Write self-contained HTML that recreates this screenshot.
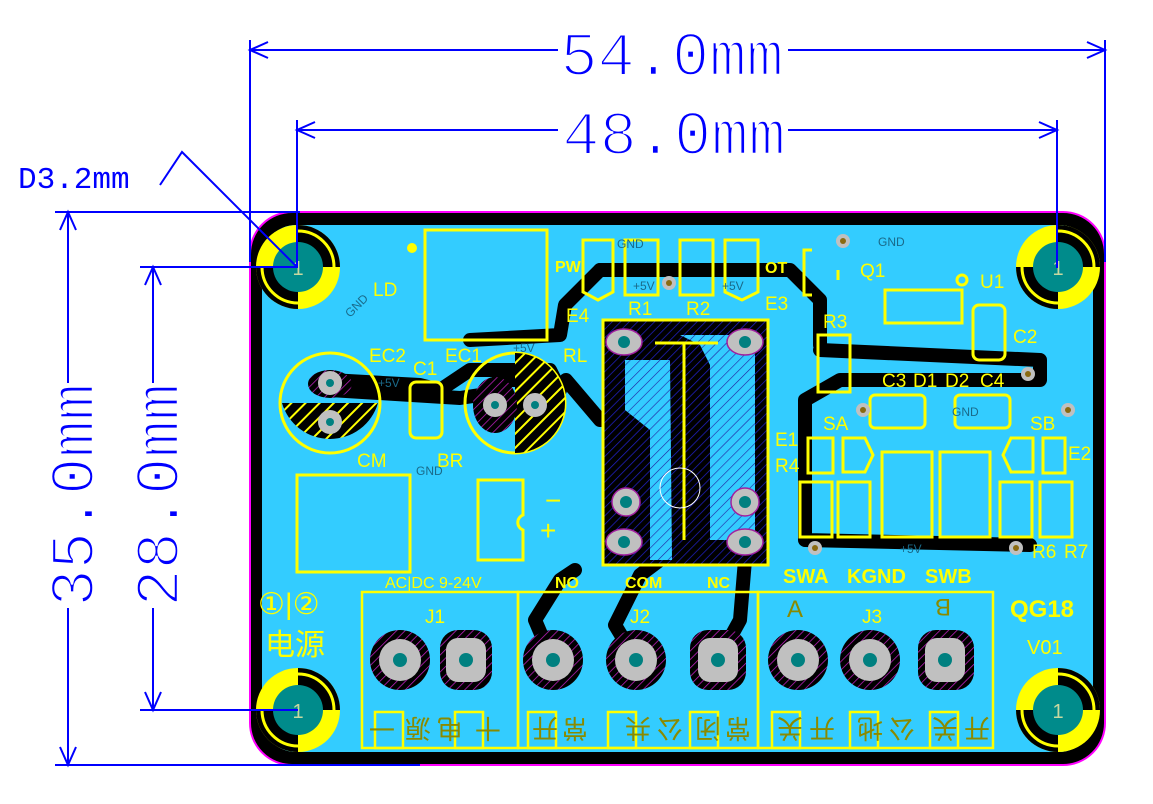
<!DOCTYPE html>
<html><head><meta charset="utf-8"><style>
html,body{margin:0;padding:0;background:#fff;}
svg{display:block;}
.y{fill:#FFFF00;font-family:"Liberation Sans",sans-serif;}
.g{fill:#1a6a8a;font-family:"Liberation Sans",sans-serif;}
.d{fill:#0000FF;stroke:#fff;stroke-width:2.4;font-family:"Liberation Mono",monospace;}
.c{fill:#8a8a00;font-family:"Liberation Sans","Noto Sans CJK SC",sans-serif;font-size:26px;}
</style></head><body>
<svg width="1153" height="804" viewBox="0 0 1153 804" xmlns="http://www.w3.org/2000/svg">
<defs>
<pattern id="h1" width="6" height="6" patternUnits="userSpaceOnUse" patternTransform="rotate(45)"><rect width="6" height="6" fill="#000"/><line x1="0" y1="0" x2="0" y2="6" stroke="#c020c0" stroke-width="1.5"/></pattern>
<pattern id="h2" width="6" height="6" patternUnits="userSpaceOnUse" patternTransform="rotate(45)"><rect width="6" height="6" fill="#000"/><line x1="0" y1="0" x2="0" y2="6" stroke="#2020c0" stroke-width="1.5"/></pattern>
<pattern id="h3" width="7" height="7" patternUnits="userSpaceOnUse" patternTransform="rotate(45)"><rect width="7" height="7" fill="#33CCFF"/><line x1="0" y1="0" x2="0" y2="7" stroke="#2020a0" stroke-width="1.2"/></pattern>
<pattern id="hy" width="10" height="10" patternUnits="userSpaceOnUse" patternTransform="rotate(45)"><rect width="10" height="10" fill="#000"/><line x1="0" y1="0" x2="0" y2="10" stroke="#FFFF00" stroke-width="4"/></pattern>
</defs>

<rect x="250" y="212" width="855" height="553" rx="42" fill="#000" stroke="#FF00FF" stroke-width="2"/>
<rect x="262" y="225" width="831" height="527" rx="34" fill="#33CCFF"/>

<g fill="none" stroke="#000" stroke-width="14" stroke-linejoin="round" stroke-linecap="round">
<polyline points="600,270 790,270 820,300 820,345"/>
<polyline points="600,270 565,305 560,335 470,340"/>
<polyline points="330,380 420,385 440,390 470,370 550,370 560,390"/>
<polyline points="330,390 460,398 480,395 500,380 540,380"/>
<polyline points="820,350 1040,360 1040,380 840,380 805,400 805,540 1030,545"/>
<polyline points="552,660 535,620 560,580 575,570"/>
<polyline points="636,660 615,625 640,575 660,560"/>
<polyline points="718,660 740,620 745,560"/>
<polyline points="566,380 600,420"/>
</g>

<rect x="603" y="320" width="165" height="245" fill="url(#h2)" stroke="#FFFF00" stroke-width="3"/>
<path d="M680,335 L755,335 L755,540 L710,540 L710,365 L700,345 Z" fill="url(#h3)"/>
<path d="M625,360 L670,360 L672,560 L650,560 L650,430 L625,410 Z" fill="url(#h3)"/>
<line x1="655" y1="343" x2="718" y2="343" stroke="#FFFF00" stroke-width="3"/>
<line x1="684" y1="343" x2="684" y2="540" stroke="#FFFF00" stroke-width="3"/>
<g fill="#C0C0C0" stroke="#a020a0" stroke-width="1.5">
<ellipse cx="624" cy="342" rx="18" ry="13"/><ellipse cx="745" cy="342" rx="18" ry="13"/>
<circle cx="626" cy="502" r="14"/><circle cx="745" cy="502" r="14"/>
<ellipse cx="624" cy="542" rx="18" ry="13"/><ellipse cx="745" cy="542" rx="18" ry="13"/>
</g>
<g fill="#008080"><circle cx="624" cy="342" r="6"/><circle cx="745" cy="342" r="6"/><circle cx="626" cy="502" r="6"/><circle cx="745" cy="502" r="6"/><circle cx="624" cy="542" r="6"/><circle cx="745" cy="542" r="6"/></g>
<circle cx="680" cy="488" r="20" fill="none" stroke="#fff" stroke-width="1"/>

<rect x="425" y="230" width="122" height="110" fill="none" stroke="#FFFF00" stroke-width="3"/>
<circle cx="412" cy="248" r="5" fill="#FFFF00"/>
<g fill="none" stroke="#FFFF00" stroke-width="3">
<path d="M583,240 h30 v52 l-15,8 l-15,-8 z"/>
<rect x="625" y="240" width="33" height="55"/>
<rect x="680" y="240" width="33" height="55"/>
<path d="M725,240 h33 v52 l-16,8 l-17,-8 z"/>
<path d="M812,250 h-8 v45 h8 M838,270 v10"/>
<rect x="885" y="290" width="77" height="33"/>
<rect x="973" y="305" width="32" height="55" rx="6"/>
<rect x="818" y="335" width="32" height="57"/>
<rect x="870" y="395" width="55" height="33" rx="5"/>
<rect x="955" y="395" width="55" height="33" rx="5"/>
<rect x="808" y="438" width="25" height="35"/>
<path d="M843,438 h22 l8,17 l-8,17 h-22 z"/>
<path d="M1033,438 h-22 l-8,17 l8,17 h22 z"/>
<rect x="1043" y="438" width="22" height="35"/>
<rect x="800" y="482" width="32" height="55"/>
<rect x="838" y="482" width="32" height="55"/>
<rect x="882" y="452" width="50" height="85"/>
<rect x="940" y="452" width="50" height="85"/>
<rect x="1000" y="482" width="32" height="55"/>
<rect x="1040" y="482" width="32" height="55"/>
<rect x="410" y="382" width="32" height="56" rx="6"/>
<rect x="297" y="475" width="113" height="97"/>
<path d="M478,480 h45 v35 a8,8 0 0 0 0,15 v30 h-45 z"/>
</g>
<circle cx="962" cy="280" r="5" fill="none" stroke="#FFFF00" stroke-width="3"/>
<circle cx="330" cy="403" r="50" fill="none" stroke="#FFFF00" stroke-width="3"/>
<path d="M282,403 A50,50 0 0 0 378,403 Z" fill="url(#hy)"/>
<ellipse cx="330" cy="384" rx="22" ry="14" fill="url(#h1)"/>
<circle cx="515" cy="403" r="50" fill="none" stroke="#FFFF00" stroke-width="3"/>
<path d="M515,353 A50,50 0 0 1 515,453 Z" fill="url(#hy)"/>
<ellipse cx="495" cy="405" rx="22" ry="28" fill="url(#h1)"/>
<g fill="#C0C0C0"><circle cx="330" cy="383" r="12"/><circle cx="330" cy="422" r="12"/><circle cx="495" cy="405" r="12"/><circle cx="535" cy="405" r="12"/></g>
<g fill="#008080"><circle cx="330" cy="383" r="4"/><circle cx="330" cy="422" r="4"/><circle cx="495" cy="405" r="4"/><circle cx="535" cy="405" r="4"/></g>
<g fill="#C0C0C0"><circle cx="843" cy="241" r="7"/><circle cx="669" cy="283" r="7"/><circle cx="1028" cy="374" r="7"/><circle cx="863" cy="410" r="7"/><circle cx="1068" cy="410" r="7"/><circle cx="815" cy="548" r="7"/><circle cx="1016" cy="548" r="7"/></g>
<g fill="#8a6a10"><circle cx="843" cy="241" r="3"/><circle cx="669" cy="283" r="3"/><circle cx="1028" cy="374" r="3"/><circle cx="863" cy="410" r="3"/><circle cx="1068" cy="410" r="3"/><circle cx="815" cy="548" r="3"/><circle cx="1016" cy="548" r="3"/></g>

<g fill="none" stroke="#FFFF00" stroke-width="2.5">
<rect x="362" y="592" width="156" height="156"/>
<rect x="518" y="592" width="240" height="156"/>
<rect x="758" y="592" width="235" height="156"/>
<rect x="375" y="712" width="28" height="36"/><rect x="455" y="712" width="28" height="36"/>
<rect x="528" y="712" width="28" height="36"/><rect x="608" y="712" width="28" height="36"/>
<rect x="690" y="712" width="28" height="36"/><rect x="772" y="712" width="28" height="36"/>
<rect x="850" y="712" width="28" height="36"/><rect x="930" y="712" width="28" height="36"/>
</g>
<g fill="url(#h1)">
<circle cx="400" cy="660" r="30"/><rect x="440" y="630" width="52" height="60" rx="18"/>
<circle cx="553" cy="660" r="30"/><circle cx="636" cy="660" r="30"/><rect x="690" y="630" width="56" height="60" rx="18"/>
<circle cx="798" cy="660" r="30"/><circle cx="870" cy="660" r="30"/><rect x="918" y="630" width="56" height="60" rx="18"/>
</g>
<g fill="#C0C0C0">
<circle cx="400" cy="660" r="21"/><rect x="446" y="638" width="40" height="44" rx="12"/>
<circle cx="553" cy="660" r="21"/><circle cx="636" cy="660" r="21"/><rect x="698" y="638" width="40" height="44" rx="12"/>
<circle cx="798" cy="660" r="21"/><circle cx="870" cy="660" r="21"/><rect x="925" y="638" width="40" height="44" rx="12"/>
</g>
<g fill="#008080">
<circle cx="400" cy="660" r="7"/><circle cx="466" cy="660" r="7"/><circle cx="553" cy="660" r="7"/><circle cx="636" cy="660" r="7"/><circle cx="718" cy="660" r="7"/><circle cx="798" cy="660" r="7"/><circle cx="870" cy="660" r="7"/><circle cx="945" cy="660" r="7"/>
</g>

<g id="mh">
<circle cx="298" cy="267" r="42" fill="#FFFF00"/>
<path d="M298,267 L298,225 A42,42 0 0 1 340,267 Z" fill="#000"/>
<path d="M298,267 L298,309 A42,42 0 0 1 256,267 Z" fill="#000"/>
<circle cx="298" cy="267" r="36" fill="none" stroke="#FFFF00" stroke-width="3"/>
<circle cx="298" cy="267" r="25" fill="#008B8B"/>
<text x="298" y="275" text-anchor="middle" font-size="20" fill="#c8d8a0" font-family="Liberation Sans">1</text>
</g>
<use href="#mh" x="760" y="0"/>
<use href="#mh" x="0" y="443"/>
<use href="#mh" x="760" y="443"/>

<g class="y" font-size="19">
<text x="373" y="296">LD</text>
<text x="555" y="272" font-size="16" font-weight="bold">PW</text>
<text x="765" y="273" font-size="16" font-weight="bold">OT</text>
<text x="628" y="315">R1</text><text x="686" y="315">R2</text>
<text x="566" y="322">E4</text><text x="765" y="310">E3</text>
<text x="860" y="277">Q1</text><text x="980" y="288">U1</text>
<text x="1013" y="343">C2</text><text x="823" y="328">R3</text>
<text x="369" y="362">EC2</text><text x="445" y="362">EC1</text>
<text x="413" y="375">C1</text><text x="563" y="362">RL</text>
<text x="357" y="467">CM</text><text x="437" y="467">BR</text>
<text x="882" y="387">C3</text><text x="913" y="387">D1</text><text x="945" y="387">D2</text><text x="980" y="387">C4</text>
<text x="823" y="430">SA</text><text x="1030" y="430">SB</text>
<text x="775" y="446">E1</text><text x="775" y="472">R4</text>
<text x="1068" y="460">E2</text>
<text x="1032" y="558">R6</text><text x="1064" y="558">R7</text>
<text x="425" y="623">J1</text><text x="630" y="623">J2</text><text x="862" y="623">J3</text>
<text x="545" y="510" font-size="28">−</text><text x="540" y="540" font-size="28">+</text>
<text x="385" y="588" font-size="16">AC|DC 9-24V</text>
<text x="555" y="588" font-size="16" font-weight="bold">NO</text>
<text x="625" y="588" font-size="16" font-weight="bold">COM</text>
<text x="707" y="588" font-size="16" font-weight="bold">NC</text>
<text x="783" y="583" font-size="20" font-weight="bold">SWA</text>
<text x="847" y="583" font-size="20" font-weight="bold">KGND</text>
<text x="925" y="583" font-size="20" font-weight="bold">SWB</text>
<text x="1010" y="617" font-size="24" font-weight="bold">QG18</text>
<text x="1027" y="654" font-size="20">V01</text>
<text x="258" y="614" font-size="30">①|②</text>
<text x="265" y="655" font-size="30" font-family="'Liberation Sans','Noto Sans CJK SC',sans-serif">电源</text>
<text x="787" y="617" font-size="24" style="fill:#8a8a00">A</text>
<text x="933" y="617" font-size="24" style="fill:#8a8a00" transform="rotate(180 942 608)">B</text>
</g>
<g class="c" text-anchor="middle">
<text transform="translate(382,728) rotate(180)" y="9">一</text>
<text transform="translate(418,728) rotate(180)" y="9">源</text>
<text transform="translate(450,728) rotate(180)" y="9">电</text>
<text transform="translate(488,728) rotate(180)" y="9">十</text>
<text transform="translate(545,728) rotate(180)" y="9">开</text>
<text transform="translate(575,728) rotate(180)" y="9">常</text>
<text transform="translate(638,728) rotate(180)" y="9">共</text>
<text transform="translate(670,728) rotate(180)" y="9">公</text>
<text transform="translate(708,728) rotate(180)" y="9">闭</text>
<text transform="translate(738,728) rotate(180)" y="9">常</text>
<text transform="translate(790,728) rotate(180)" y="9">关</text>
<text transform="translate(822,728) rotate(180)" y="9">开</text>
<text transform="translate(870,728) rotate(180)" y="9">地</text>
<text transform="translate(902,728) rotate(180)" y="9">公</text>
<text transform="translate(945,728) rotate(180)" y="9">关</text>
<text transform="translate(977,728) rotate(180)" y="9">开</text>
</g>
<g class="g" font-size="12">
<text x="617" y="248">GND</text><text x="878" y="246">GND</text>
<text x="633" y="290">+5V</text><text x="722" y="290">+5V</text>
<text x="378" y="387">+5V</text><text x="513" y="352">+5V</text>
<text x="416" y="475">GND</text><text x="952" y="416">GND</text>
<text x="900" y="553">+5V</text>
<text x="350" y="318" transform="rotate(-45 350 318)">GND</text>
</g>

<g stroke="#0000FF" stroke-width="2" fill="none">
<line x1="250" y1="40" x2="250" y2="262"/><line x1="1105" y1="40" x2="1105" y2="262"/>
<line x1="250" y1="50" x2="1105" y2="50"/>
<polyline points="268,42 250,50 268,58"/><polyline points="1087,42 1105,50 1087,58"/>
<line x1="297" y1="120" x2="297" y2="268"/><line x1="1057" y1="120" x2="1057" y2="268"/>
<line x1="297" y1="130" x2="1057" y2="130"/>
<polyline points="315,122 297,130 315,138"/><polyline points="1039,122 1057,130 1039,138"/>
<line x1="55" y1="212" x2="300" y2="212"/><line x1="55" y1="765" x2="420" y2="765"/>
<line x1="68" y1="212" x2="68" y2="765"/>
<polyline points="60,230 68,212 76,230"/><polyline points="60,747 68,765 76,747"/>
<line x1="140" y1="267" x2="298" y2="267"/><line x1="140" y1="710" x2="298" y2="710"/>
<line x1="153" y1="267" x2="153" y2="710"/>
<polyline points="145,285 153,267 161,285"/><polyline points="145,692 153,710 161,692"/>
<polyline points="160,185 182,152 297,267"/>
</g>
<g fill="#fff">
<rect x="558" y="34" width="230" height="42"/>
<rect x="558" y="112" width="230" height="42"/>
<rect x="48" y="383" width="44" height="225"/>
<rect x="133" y="383" width="44" height="225"/>
</g>
<g class="d">
<text x="672" y="75" font-size="62" text-anchor="middle">54.0mm</text>
<text x="674" y="154" font-size="62" text-anchor="middle">48.0mm</text>
<text x="18" y="188" font-size="31" style="stroke-width:0">D3.2mm</text>
<text x="0" y="0" font-size="62" text-anchor="middle" transform="translate(93,495) rotate(-90)">35.0mm</text>
<text x="0" y="0" font-size="62" text-anchor="middle" transform="translate(178,495) rotate(-90)">28.0mm</text>
</g>
</svg>
</body></html>
